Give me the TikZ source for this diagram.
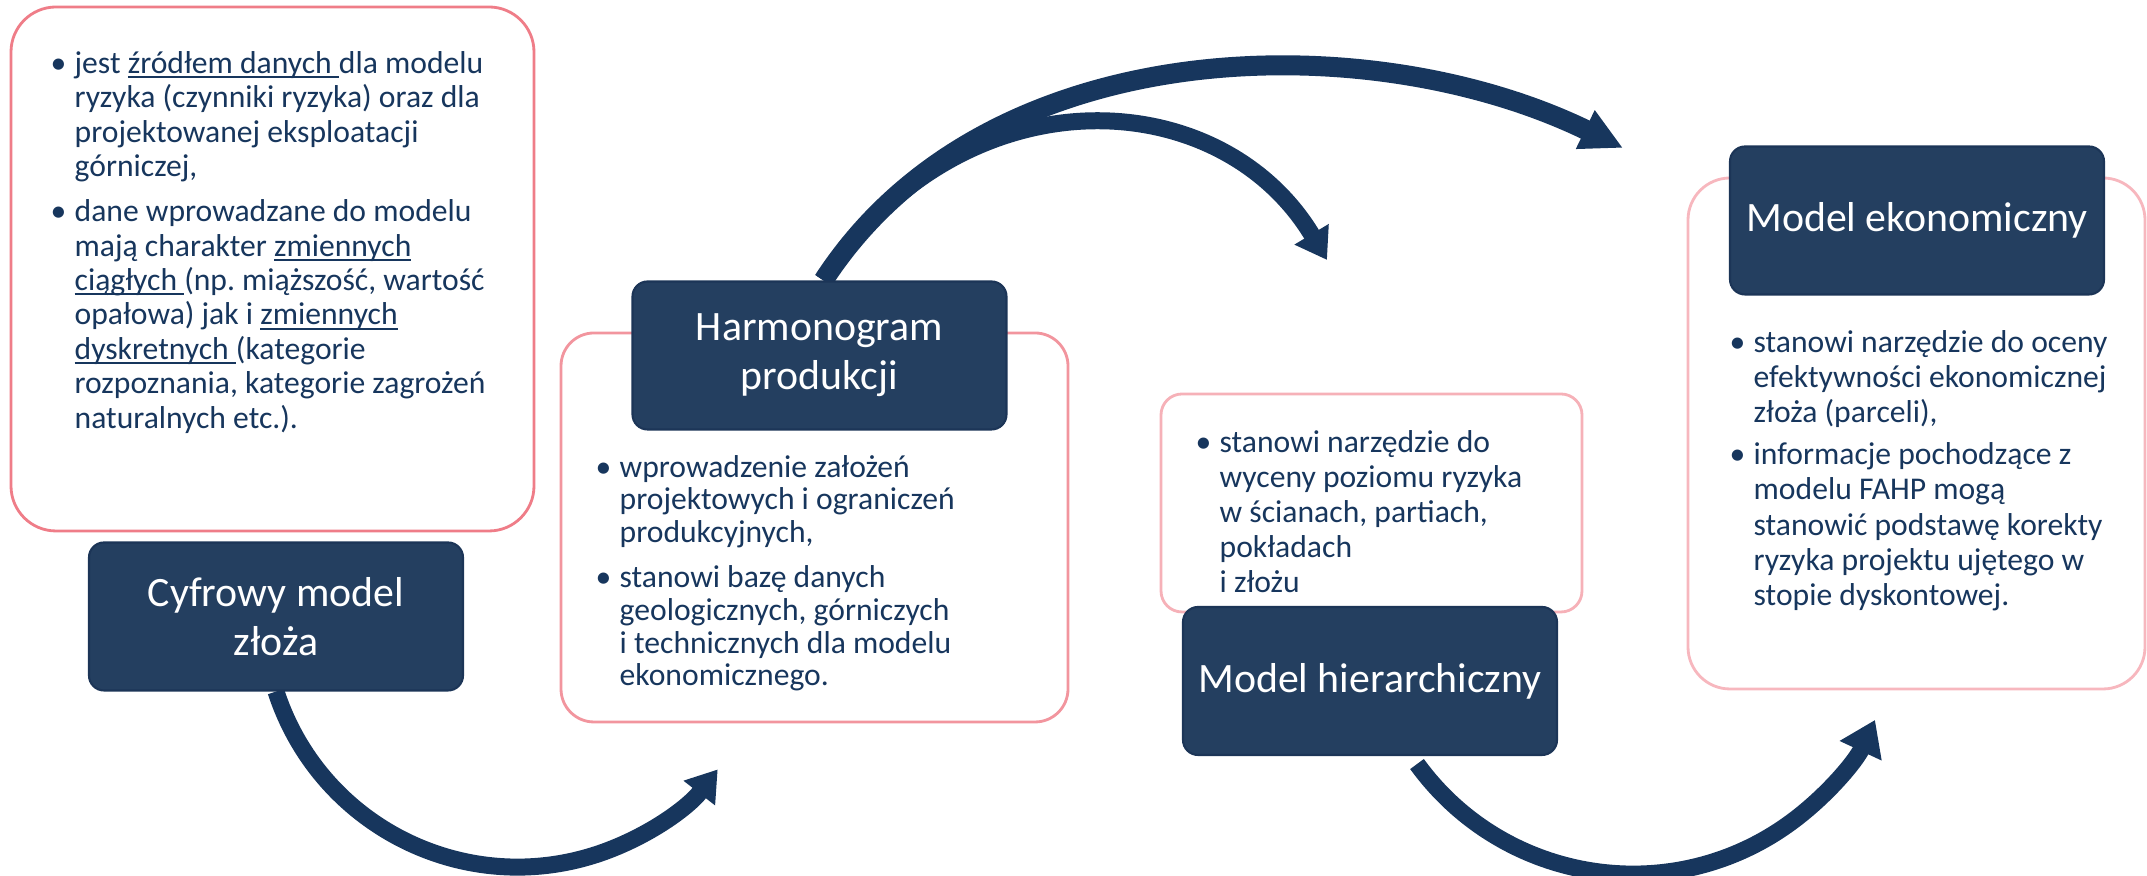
\documentclass[tikz,border=0pt]{standalone}
\usepackage{fontspec}
\setmainfont{Carlito}
\usetikzlibrary{arrows.meta, backgrounds}
\frenchspacing

\definecolor{navy}{HTML}{17365D}
\definecolor{tilefill}{HTML}{243F60}
\definecolor{tileborder}{HTML}{1C3557}
\definecolor{rimA}{HTML}{EF7D88}
\definecolor{rimB}{HTML}{F2959E}
\definecolor{rimC}{HTML}{F6B1B8}
\definecolor{rimD}{HTML}{F7B7BE}

% bullet, hanging indent and underline for the card texts
\newcommand{\cardtop}{\rule{0pt}{9pt}}
\newcommand{\cardbul}{\makebox[0.21cm][l]{\hspace*{-0.3mm}•}}
\newcommand{\cardind}{\hspace*{0.21cm}}
\newlength{\cardulwd}
\newcommand{\cardul}[1]{\settowidth{\cardulwd}{#1}%
    \rlap{\rule[-1.3pt]{\cardulwd}{0.5pt}}#1}

\begin{document}
\begin{tikzpicture}[
    font=\fontsize{9}{9.8}\selectfont,
    card/.style={draw, line width=0.8pt, fill=white, inner sep=0pt},
    tile/.style={draw=tileborder, fill=tilefill, line width=0.6pt,
                 rounded corners=1.5mm, minimum width=3.74cm,
                 minimum height=1.48cm, inner sep=0pt, text=white,
                 align=center, font=\fontsize{11.9}{14}\selectfont},
    body/.style={anchor=north west, inner sep=0pt, align=left, text=navy},
    flow/.style={draw=navy, line width=1.7mm,
                 -{Triangle[length=3mm, width=3.8mm]}},
]
\useasboundingbox (0,0) rectangle (21.47,8.76);

% pink cards
\node[card, draw=rimA, rounded corners=4.5mm, minimum width=5.23cm,
      minimum height=5.24cm] (cardA) at (2.725,6.07) {};
\node[card, draw=rimB, rounded corners=3.3mm, minimum width=5.07cm,
      minimum height=3.89cm] (cardB) at (8.145,3.485) {};
\node[card, draw=rimC, rounded corners=2.1mm, minimum width=4.21cm,
      minimum height=2.18cm] (cardC) at (13.715,3.73) {};
\node[card, draw=rimD, rounded corners=4.2mm, minimum width=4.57cm,
      minimum height=5.11cm] (cardD) at (19.165,4.425) {};

% card texts
\node[body] (txtA) at (0.53,8.35) {%
    \cardtop\cardbul jest \cardul{źródłem danych }dla modelu\\
    \cardind ryzyka (czynniki ryzyka) oraz dla\\
    \cardind projektowanej eksploatacji\\
    \cardind górniczej,\\[3pt]
    \cardbul dane wprowadzane do modelu\\
    \cardind mają charakter \cardul{zmiennych}\\
    \cardind \cardul{ciągłych }(np. miąższość, wartość\\
    \cardind opałowa) jak i \cardul{zmiennych}\\
    \cardind \cardul{dyskretnych }(kategorie\\
    \cardind rozpoznania, kategorie zagrożeń\\
    \cardind naturalnych etc.).};

\node[body, font=\fontsize{9}{9.3}\selectfont] (txtB) at (5.98,4.31) {%
    \cardtop\cardbul wprowadzenie założeń\\
    \cardind projektowych i ograniczeń\\
    \cardind produkcyjnych,\\[3.5pt]
    \cardbul stanowi bazę danych\\
    \cardind geologicznych, górniczych\\
    \cardind i technicznych dla modelu\\
    \cardind ekonomicznego.};

\node[body, font=\fontsize{9}{10}\selectfont] (txtC) at (11.98,4.56) {%
    \cardtop\cardbul stanowi narzędzie do\\
    \cardind wyceny poziomu ryzyka\\
    \cardind w ścianach, partiach,\\
    \cardind pokładach\\
    \cardind i złożu};

\node[body, font=\fontsize{9}{10}\selectfont] (txtD) at (17.32,5.56) {%
    \cardtop\cardbul stanowi narzędzie do oceny\\
    \cardind efektywności ekonomicznej\\
    \cardind złoża (parceli),\\[2pt]
    \cardbul informacje pochodzące z\\
    \cardind modelu FAHP mogą\\
    \cardind stanowić podstawę korekty\\
    \cardind ryzyka projektu ujętego w\\
    \cardind stopie dyskontowej.};

% dark title tiles
\node[tile] (cyf) at (2.76,2.595) {Cyfrowy model\\złoża};
\node[tile] (harm) at (8.195,5.205) {Harmonogram\\produkcji};
\node[tile] (hier) at (13.70,1.95) {Model hierarchiczny};
\node[tile] (ekon) at (19.17,6.555) {Model ekonomiczny};

% curved arrows behind everything
\begin{scope}[on background layer]
    \coordinate (bigtip) at (16.23,7.28);
    \coordinate (smalltip) at (13.27,6.16);
    \draw[flow] (cyf.south) arc[start angle=198, end angle=322, radius=2.54];
    \draw[flow, line width=2mm, -{Triangle[length=4.2mm, width=4mm]}]
        ([xshift=0.4mm]harm.north) .. controls +(57:3.0) and +(154:2.8) .. (bigtip);
    \draw[flow] ([xshift=0.4mm]harm.north)
        .. controls +(57:2.5) and +(121:2.1) .. (smalltip);
    \draw[flow, -{Triangle[length=3.4mm, width=4.4mm]}]
        ([xshift=4.7mm, yshift=-0.8mm]hier.south)
        arc[start angle=216, end angle=335, radius=2.67];
\end{scope}
\end{tikzpicture}
\end{document}
